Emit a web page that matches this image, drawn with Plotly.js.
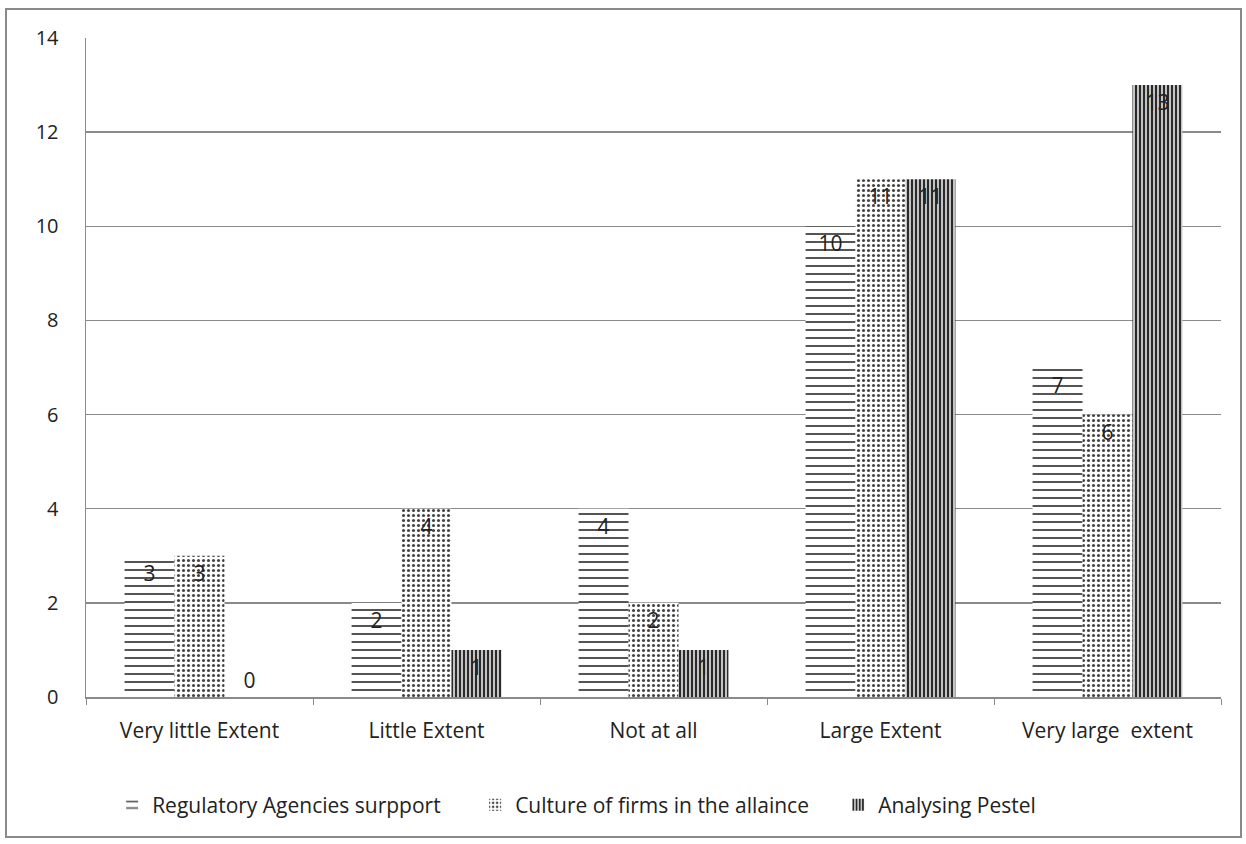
<!DOCTYPE html>
<html>
<head>
<meta charset="utf-8">
<script src="https://cdn.plot.ly/plotly-3.0.1.min.js"></script>
<style>
html,body{margin:0;padding:0;background:#fff;}
#chart{width:1246px;height:844px;}
#frame{position:absolute;left:5px;top:8px;width:1233px;height:826px;border:2px solid #8a8a8a;pointer-events:none;}
</style>
</head>
<body>
<div id="chart"></div>
<div id="frame"></div>
<script>
const categories = ["Very little Extent", "Little Extent", "Not at all", "Large Extent", "Very large  extent"];
const regulatory = [3, 2, 4, 10, 7];
const culture = [3, 4, 2, 11, 6];
const pestel = [0, 1, 1, 11, 13];
const seriesNames = ["Regulatory Agencies surpport", "Culture of firms in the allaince", "Analysing Pestel"];

const font = "'Open Sans', sans-serif";
function pos(vals){ return vals.map(v => v === 0 ? "outside" : "inside"); }

const common = {
  type: "bar",
  x: categories,
  texttemplate: "%{y}",
  insidetextanchor: "end",
  textfont: {family: font, size: 21, color: "#222"},
  outsidetextfont: {family: font, size: 21, color: "#222"},
  cliponaxis: false,
  constraintext: "none",
  hoverinfo: "skip"
};

const traces = [
  Object.assign({}, common, {
    name: seriesNames[0], y: regulatory, textposition: pos(regulatory),
    marker: {color: "#fff", line: {width: 0},
      pattern: {shape: "-", fgcolor: "#555", bgcolor: "#fff", size: 8, solidity: 0.25}}
  }),
  Object.assign({}, common, {
    name: seriesNames[1], y: culture, textposition: pos(culture),
    marker: {color: "#fff", line: {width: 0},
      pattern: {shape: ".", fgcolor: "#444", bgcolor: "#fff", size: 5, solidity: 0.3}}
  }),
  Object.assign({}, common, {
    name: seriesNames[2], y: pestel, textposition: pos(pestel),
    marker: {color: "#555", line: {width: 0},
      pattern: {shape: "|", fgcolor: "#2a2a2a", bgcolor: "#c4c4c4", size: 4, solidity: 0.5}}
  })
];

const layout = {
  width: 1246, height: 844,
  paper_bgcolor: "#fff", plot_bgcolor: "#fff",
  margin: {l: 86, r: 25, t: 38, b: 147},
  barmode: "group",
  bargap: 0.34,
  bargroupgap: 0,
  showlegend: true,
  legend: {orientation: "h", x: 0.09, xanchor: "left", xref: "container", y: 0.046, yanchor: "middle", yref: "container",
    entrywidth: 318, entrywidthmode: "pixels",
    font: {family: font, size: 21, color: "#222"}, itemwidth: 30, traceorder: "normal"},
  font: {family: font, size: 21, color: "#222"},
  xaxis: {
    type: "category",
    showline: true, linecolor: "#8a8a8a", linewidth: 1.5,
    ticks: "outside", tickson: "boundaries", ticklen: 6, tickcolor: "#8a8a8a",
    ticklabelstandoff: 14,
    tickfont: {family: font, size: 21, color: "#222"},
    showgrid: false, fixedrange: true
  },
  yaxis: {
    range: [0, 14], dtick: 2,
    showline: true, linecolor: "#8a8a8a", linewidth: 1.5,
    showgrid: true, gridcolor: "#8a8a8a", gridwidth: 1.3,
    zeroline: false, ticks: "", ticklabelstandoff: 22,
    tickfont: {family: font, size: 20, color: "#222"},
    fixedrange: true
  }
};

Plotly.newPlot("chart", traces, layout, {displayModeBar: false, staticPlot: true});
</script>
</body>
</html>
